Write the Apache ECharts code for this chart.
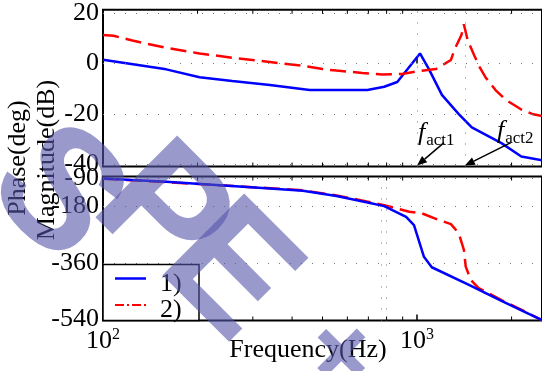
<!DOCTYPE html>
<html>
<head>
<meta charset="utf-8">
<script src="https://cdn.jsdelivr.net/npm/echarts@6/dist/echarts.min.js"></script>
<style>
html,body{margin:0;padding:0;background:#fff;}
#c{width:542px;height:371px;}
</style>
</head>
<body>
<div id="c"></div>
<script>
// ---- data ----
const magFreq1 = [100, 159, 203, 258, 340, 455, 695, 786, 865, 1022, 1091, 1200, 1358, 1494, 1857, 2148, 2500];
const magVal1  = [1.5, -2.3, -5.4, -6.9, -8.5, -10.5, -10.5, -9.2, -7.3, 4.0, -2.2, -12.4, -20, -25.3, -31.5, -36.8, -38.3];

const magFreq2 = [100, 108, 124, 159, 203, 258, 340, 433, 500, 554, 670, 775, 897, 1000, 1148, 1282, 1316, 1385, 1410, 1449, 1524, 1584, 1653, 1778, 1914, 2148, 2345, 2500];
const magVal2  = [11.3, 11.0, 9.1, 6.2, 4.0, 2.3, 0.6, -0.9, -2.2, -2.8, -3.7, -4.3, -4.1, -3.1, -2.2, 1.4, 5.5, 11.3, 15.5, 9.3, 3.0, -1.5, -5.5, -10.5, -14.3, -18.2, -20.1, -20.8];

const phFreq1 = [100, 159, 340, 433, 554, 690, 786, 923, 978, 1052, 1114, 1463, 1857, 2500];
const phVal1  = [-92, -103, -124, -131, -148, -168, -180, -214, -240, -341, -374, -430, -481, -542];

const phFreq2 = [100, 159, 340, 433, 554, 690, 786, 944, 1037, 1174, 1282, 1358, 1410, 1429, 1483, 1571, 1857, 2262, 2500];
const phVal2  = [-93, -104, -123, -130, -146, -165, -177, -198, -203, -224, -237, -266, -319, -372, -414, -440, -478, -520, -542];

const magTicks = [20, 0, -20, -40];
const phTicks = [-90, -180, -360, -540];
const magVGrid = [1000, 1420];
const phVGrid = [770, 800];
const minorFreqs = [200, 300, 400, 500, 600, 700, 800, 900, 2000];
const factFreqs = [1000, 1420];
const factNames = ['act1', 'act2'];
const seriesNames = ['1)', '2)'];
const watermarkChars = ['S', 'P', 'E', '+'];

// ---- chart ----
const FONT = 'Liberation Serif';
const MAG_RANGE = [-40.75, 21.25];
const PH_RANGE = [-543, -86];
const zip = (a, b) => a.map((v, i) => [v, b[i]]);
const chart = echarts.init(document.getElementById('c'), null, {renderer: 'canvas'});

const dotted = {color: '#777', width: 1, type: [1, 10]};
function gridMarks(yVals, xVals) {
  return {
    silent: true, symbol: 'none', label: {show: false},
    lineStyle: dotted,
    emphasis: {disabled: true},
    data: yVals.map(v => ({yAxis: v})).concat(xVals.map(v => ({xAxis: v})))
  };
}
function near(v, list) { return list.some(t => Math.abs(v - t) < 1e-6); }

function tickSeries(idx, range) {
  return {
    type: 'custom', xAxisIndex: idx, yAxisIndex: idx, silent: true, z: 10,
    data: minorFreqs.map(f => [f]),
    renderItem: (params, api) => {
      const lo = api.coord([api.value(0), range[0]]);
      const hi = api.coord([api.value(0), range[1]]);
      const st = {stroke: '#000', lineWidth: 1};
      return {type: 'group', children: [
        {type: 'line', shape: {x1: lo[0], y1: lo[1], x2: lo[0], y2: lo[1] - 4}, style: st},
        {type: 'line', shape: {x1: hi[0], y1: hi[1], x2: hi[0], y2: hi[1] + 4}, style: st}
      ]};
    }
  };
}

const xCommon = {
  type: 'log', logBase: 10, min: 100, max: 2500,
  axisLine: {show: false},
  splitLine: {show: false},
  axisTick: {show: true, inside: true, length: 6, lineStyle: {color: '#000', width: 1.5}},
};

const option = {
  animation: false,
  backgroundColor: '#fff',
  grid: [
    {left: 103, right: -3, top: 5, height: 161.5, show: true, borderColor: '#000', borderWidth: 2, backgroundColor: 'transparent'},
    {left: 103, right: -3, top: 176.5, height: 144, show: true, borderColor: '#000', borderWidth: 2, backgroundColor: 'transparent'}
  ],
  xAxis: [
    Object.assign({}, xCommon, {gridIndex: 0, axisLabel: {show: false}}),
    Object.assign({}, xCommon, {gridIndex: 1, axisLabel: {
      show: true, margin: 6, showMaxLabel: false, color: '#000',
      fontFamily: FONT, fontSize: 26,
      formatter: v => {
        const e = Math.round(Math.log10(v));
        if (Math.abs(Math.pow(10, e) - v) > 1e-6 * v) return '';
        return '{b|10}{s|' + e + '}';
      },
      rich: {
        b: {fontFamily: FONT, fontSize: 26, color: '#000', lineHeight: 30},
        s: {fontFamily: FONT, fontSize: 16, color: '#000', verticalAlign: 'top', lineHeight: 30, padding: [0, 0, 12, 0]}
      }
    }})
  ],
  yAxis: [
    {gridIndex: 0, type: 'value', min: MAG_RANGE[0], max: MAG_RANGE[1], interval: 0.25,
      axisLine: {show: false}, axisTick: {show: false}, splitLine: {show: false},
      axisLabel: {margin: 4, color: '#000', fontFamily: FONT, fontSize: 26,
        formatter: v => near(v, magTicks) ? String(Math.round(v)) : ''}},
    {gridIndex: 1, type: 'value', min: PH_RANGE[0], max: PH_RANGE[1], interval: 1,
      axisLine: {show: false}, axisTick: {show: false}, splitLine: {show: false},
      axisLabel: {margin: 4, color: '#000', fontFamily: FONT, fontSize: 26,
        formatter: v => near(v, phTicks) ? String(Math.round(v)) : ''}}
  ],
  series: [
    {type: 'line', name: seriesNames[0], xAxisIndex: 0, yAxisIndex: 0, data: zip(magFreq1, magVal1),
      symbol: 'none', lineStyle: {color: '#0000ff', width: 2.5}, z: 3,
      markLine: gridMarks(magTicks, magVGrid)},
    {type: 'line', name: seriesNames[1], xAxisIndex: 0, yAxisIndex: 0, data: zip(magFreq2, magVal2),
      symbol: 'none', lineStyle: {color: '#ff0000', width: 2.5, type: [16, 7]}, z: 4},
    {type: 'line', name: seriesNames[0], xAxisIndex: 1, yAxisIndex: 1, data: zip(phFreq1, phVal1),
      symbol: 'none', lineStyle: {color: '#0000ff', width: 2.5}, z: 4,
      markLine: gridMarks(phTicks, phVGrid)},
    {type: 'line', name: seriesNames[1], xAxisIndex: 1, yAxisIndex: 1, data: zip(phFreq2, phVal2),
      symbol: 'none', lineStyle: {color: '#ff0000', width: 2.5, type: [16, 7]}, z: 3},
    tickSeries(0, MAG_RANGE),
    tickSeries(1, PH_RANGE)
  ]
};
chart.setOption(option);

// ---- annotations, legend, titles, watermark ----
const g = [];
const textStyle = (extra) => Object.assign({fontFamily: FONT, fill: '#000'}, extra);

// axis titles
g.push({type: 'text', x: 308, y: 350, z: 50, style: textStyle({text: 'Frequency(Hz)', fontSize: 26, align: 'center', verticalAlign: 'middle'})});
g.push({type: 'text', x: 47, y: 160, rotation: Math.PI / 2, z: 50, style: textStyle({text: 'Magnitude(dB)', fontSize: 26, align: 'center', verticalAlign: 'middle'})});
g.push({type: 'text', x: 18, y: 158, rotation: Math.PI / 2, z: 50, style: textStyle({text: 'Phase(deg)', fontSize: 26, align: 'center', verticalAlign: 'middle'})});

// f_act annotations with arrows
const tailOff = [[27, -23], [46, -23]];
const labelPos = [[418, 133], [497, 131]];
factFreqs.forEach((f, i) => {
  const tip = chart.convertToPixel({gridIndex: 0}, [f, -40.4]);
  const tail = [tip[0] + tailOff[i][0], tip[1] + tailOff[i][1]];
  const ang = Math.atan2(tip[1] - tail[1], tip[0] - tail[0]);
  const L = 10, W = 4;
  const bx = tip[0] - L * Math.cos(ang), by = tip[1] - L * Math.sin(ang);
  const px = -Math.sin(ang) * W, py = Math.cos(ang) * W;
  g.push({type: 'line', z: 60, shape: {x1: tail[0], y1: tail[1], x2: bx, y2: by}, style: {stroke: '#000', lineWidth: 1.5}});
  g.push({type: 'polygon', z: 60, shape: {points: [[tip[0], tip[1]], [bx + px, by + py], [bx - px, by - py]]}, style: {fill: '#000'}});
  g.push({type: 'text', z: 60, x: labelPos[i][0], y: labelPos[i][1], style: {
    text: '{f|f}{s|' + factNames[i] + '}', align: 'left', verticalAlign: 'middle',
    rich: {
      f: {fontFamily: FONT, fontStyle: 'italic', fontSize: 26, fill: '#000', lineHeight: 28},
      s: {fontFamily: FONT, fontSize: 17, fill: '#000', verticalAlign: 'bottom', lineHeight: 28, padding: [0, 0, -2, 1]}
    }}});
});

// legend
g.push({type: 'rect', z: 55, shape: {x: 103, y: 264.5, width: 96, height: 56}, style: {fill: '#fff', stroke: '#000', lineWidth: 1.5}});
g.push({type: 'line', z: 56, shape: {x1: 115, y1: 278.5, x2: 146, y2: 278.5}, style: {stroke: '#0000ff', lineWidth: 2.5}});
g.push({type: 'line', z: 56, shape: {x1: 115, y1: 305, x2: 148, y2: 305}, style: {stroke: '#ff0000', lineWidth: 2, lineDash: [9, 3, 2, 3]}});
g.push({type: 'text', z: 56, x: 160, y: 284, style: textStyle({text: seriesNames[0], fontSize: 26, align: 'left', verticalAlign: 'middle'})});
g.push({type: 'text', z: 56, x: 160, y: 310, style: textStyle({text: seriesNames[1], fontSize: 26, align: 'left', verticalAlign: 'middle'})});

// watermark
const wmPos = [[55, 196, 168], [160, 216, 168], [227, 274, 168], [337, 357, 110]];
watermarkChars.forEach((ch, i) => {
  g.push({type: 'text', z: 100, x: wmPos[i][0], y: wmPos[i][1], rotation: -Math.PI / 4, silent: true,
    style: {text: ch, fontFamily: 'Liberation Sans', fontWeight: 'bold', fontSize: wmPos[i][2], fill: 'rgba(85,85,170,0.6)', align: 'center', verticalAlign: 'middle'}});
});

chart.setOption({graphic: g});
</script>
</body>
</html>
